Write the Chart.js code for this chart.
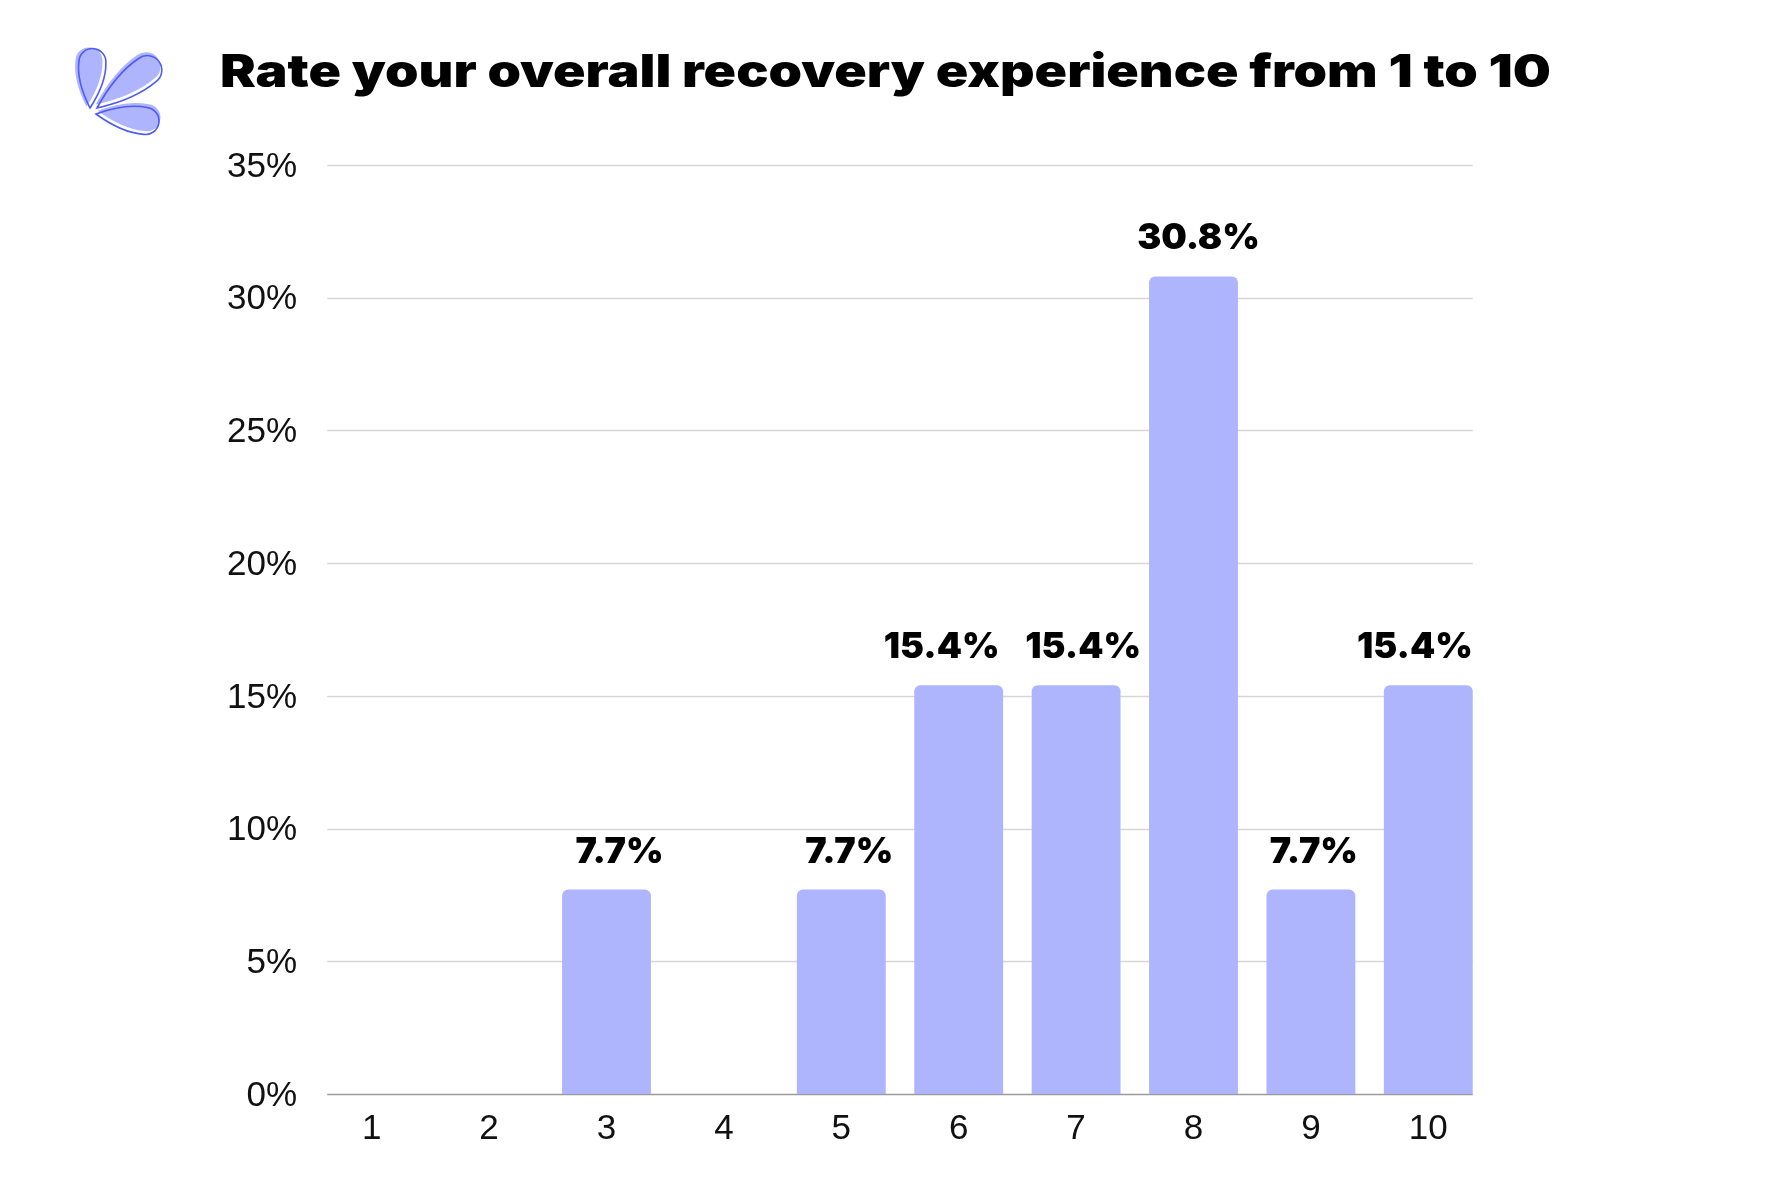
<!DOCTYPE html>
<html>
<head>
<meta charset="utf-8">
<script src="https://cdn.jsdelivr.net/npm/chart.js@4"></script>
<style>
  html, body { margin: 0; padding: 0; background: #ffffff; }
  #wrap { position: relative; width: 1772px; height: 1181px; overflow: hidden; }
  #title {
    position: absolute; left: 220px; top: 40px;
    font-family: Inter, "Noto Sans", sans-serif; font-weight: 900;
    font-size: 45px; color: #000; letter-spacing: 0px; white-space: nowrap;
    line-height: 62px; transform-origin: 0 50%;
  }
  #logo { position: absolute; left: 60px; top: 30px; }
  canvas { position: absolute; left: 0; top: 0; }
</style>
</head>
<body>
<div id="wrap">
  <svg id="logo" width="120" height="120" viewBox="60 30 120 120">
    <defs>
      <path id="p1" d="M0,0 Q26,-15 46,-13.5 A13.5,13.5 0 0 1 46,13.5 Q26,15 0,0 Z"/>
      <path id="p2" d="M0,0 Q35,-16 63,-14.5 A14.5,14.5 0 0 1 63,14.5 Q35,16 0,0 Z"/>
      <path id="p3" d="M0,0 Q28,-15 50,-13.5 A13.5,13.5 0 0 1 50,13.5 Q28,15 0,0 Z"/>
    </defs>
    <g transform="translate(90,108) rotate(-87)">
      <use href="#p1" fill="#AFB5FD" transform="translate(1,-3.5)"/>
      <use href="#p1" fill="none" stroke="#4F5BF5" stroke-width="1.6"/>
    </g>
    <g transform="translate(97,108) rotate(-37)">
      <use href="#p2" fill="#AFB5FD" transform="translate(1,-3.5)"/>
      <use href="#p2" fill="none" stroke="#4F5BF5" stroke-width="1.6"/>
    </g>
    <g transform="translate(96,114) rotate(8)">
      <use href="#p3" fill="#AFB5FD" transform="translate(1,-3.5)"/>
      <use href="#p3" fill="none" stroke="#4F5BF5" stroke-width="1.6"/>
    </g>
  </svg>
  <div id="title">Rate your overall recovery experience from 1 to 10</div>
  <canvas id="chart" width="1772" height="1181"></canvas>
</div>
<script>
const categories = ['1', '2', '3', '4', '5', '6', '7', '8', '9', '10'];
const percentages = [0, 0, 7.7, 0, 7.7, 15.4, 15.4, 30.8, 7.7, 15.4];
const yTicks = [0, 5, 10, 15, 20, 25, 30, 35];

const barColor = '#AFB5FD';

// fit title width to the reference span
(function () {
  const t = document.getElementById('title');
  const w = t.getBoundingClientRect().width;
  const target = 1331;
  t.style.transform = 'scaleX(' + (target / w) + ')';
})();

const gridPlugin = {
  id: 'customGrid',
  beforeDatasetsDraw(chart) {
    const ctx = chart.ctx;
    const meta = chart.getDatasetMeta(0);
    const first = meta.data[0], last = meta.data[meta.data.length - 1];
    const left = first.x - first.width / 2;
    const right = last.x + last.width / 2;
    const y = chart.scales.y;
    ctx.save();
    y.ticks.forEach(t => {
      const py = Math.round(y.getPixelForValue(t.value)) + 0.5;
      ctx.beginPath();
      if (t.value === 0) {
        ctx.strokeStyle = '#9a9a9a';
        ctx.lineWidth = 1.6;
      } else {
        ctx.strokeStyle = '#d6d6d6';
        ctx.lineWidth = 1.4;
      }
      ctx.moveTo(left, py);
      ctx.lineTo(right, py);
      ctx.stroke();
    });
    ctx.restore();
  }
};

// horizontal nudges of value labels (style only), in px
const labelNudge = { 2: 13, 4: 8, 5: -17, 6: 7, 7: 5, 8: 3 };

const labelPlugin = {
  id: 'valueLabels',
  afterDatasetsDraw(chart) {
    const ctx = chart.ctx;
    const meta = chart.getDatasetMeta(0);
    const last = meta.data[meta.data.length - 1];
    const rightEdge = last.x + last.width / 2;
    ctx.save();
    ctx.font = '900 36px Inter, "Noto Sans", sans-serif';
    ctx.fillStyle = '#000';
    ctx.textBaseline = 'alphabetic';
    meta.data.forEach((bar, i) => {
      const v = percentages[i];
      if (!v) return;
      const txt = v.toFixed(1) + '%';
      const w = ctx.measureText(txt).width;
      let cx = bar.x + (labelNudge[i] || 0);
      if (cx + w / 2 > rightEdge) cx = rightEdge - w / 2;
      ctx.textAlign = 'center';
      ctx.fillText(txt, cx, bar.y - 27);
    });
    ctx.restore();
  }
};

new Chart(document.getElementById('chart'), {
  type: 'bar',
  data: {
    labels: categories,
    datasets: [{
      data: percentages,
      backgroundColor: barColor,
      borderWidth: 0,
      borderRadius: { topLeft: 6, topRight: 6, bottomLeft: 0, bottomRight: 0 },
      borderSkipped: 'bottom',
      barPercentage: 0.757,
      categoryPercentage: 1.0
    }]
  },
  options: {
    responsive: false,
    animation: false,
    devicePixelRatio: 1,
    layout: { padding: { left: 0, right: 285, top: 165, bottom: 0 } },
    plugins: { legend: { display: false }, tooltip: { enabled: false }, title: { display: false } },
    scales: {
      x: {
        offset: true,
        grid: { display: false, drawTicks: false },
        border: { display: false },
        ticks: {
          padding: 14,
          color: '#111',
          font: { family: '"Liberation Sans", Arial, sans-serif', size: 35 }
        },
        afterFit(scale) { scale.height = 87; }
      },
      y: {
        min: 0, max: 35,
        afterBuildTicks(scale) { scale.ticks = yTicks.map(v => ({ value: v })); },
        grid: { display: false, drawTicks: false },
        border: { display: false },
        ticks: {
          padding: 16,
          labelOffset: 2,
          color: '#111',
          font: { family: '"Liberation Sans", Arial, sans-serif', size: 35 },
          callback: v => v + '%'
        },
        afterFit(scale) { scale.width = 313; }
      }
    }
  },
  plugins: [gridPlugin, labelPlugin]
});
</script>
</body>
</html>
